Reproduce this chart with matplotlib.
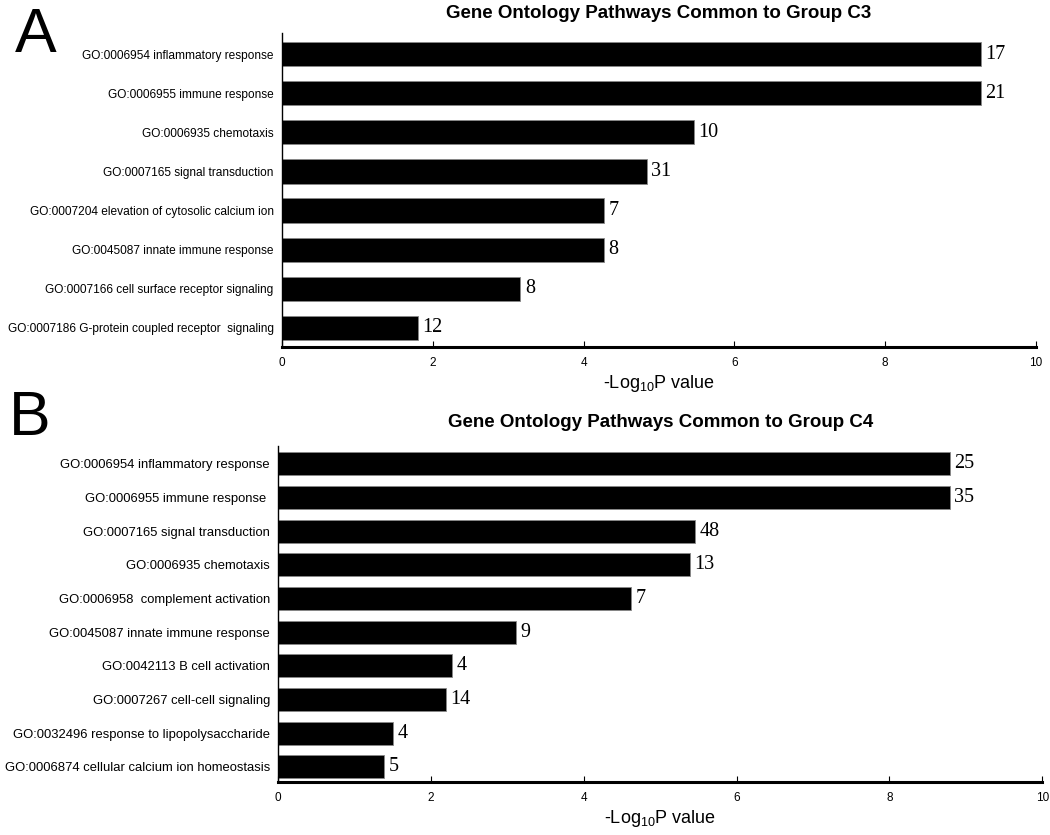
import matplotlib
matplotlib.use("Agg")
import matplotlib.pyplot as plt

plt.rcParams['font.family'] = ['Liberation Sans', 'DejaVu Sans']

# panel A data
terms_a = ["GO:0006954 inflammatory response", "GO:0006955 immune response",
           "GO:0006935 chemotaxis", "GO:0007165 signal transduction",
           "GO:0007204 elevation of cytosolic calcium ion", "GO:0045087 innate immune response",
           "GO:0007166 cell surface receptor signaling",
           "GO:0007186 G-protein coupled receptor  signaling"]
logp_a = [9.27, 9.27, 5.46, 4.84, 4.27, 4.27, 3.16, 1.80]
counts_a = [17, 21, 10, 31, 7, 8, 8, 12]

# panel B data
terms_b = ["GO:0006954 inflammatory response", "GO:0006955 immune response ",
           "GO:0007165 signal transduction", "GO:0006935 chemotaxis",
           "GO:0006958  complement activation", "GO:0045087 innate immune response",
           "GO:0042113 B cell activation", "GO:0007267 cell-cell signaling",
           "GO:0032496 response to lipopolysaccharide",
           "GO:0006874 cellular calcium ion homeostasis"]
logp_b = [8.79, 8.79, 5.46, 5.39, 4.62, 3.11, 2.27, 2.19, 1.50, 1.38]
counts_b = [25, 35, 48, 13, 7, 9, 4, 14, 4, 5]

fig = plt.figure(figsize=(10.5, 8.35), dpi=100)


def panel(rect, terms, vals, counts, title, barh_h, lab_fs, ylims, tpad):
    ax = fig.add_axes(rect)
    y = list(range(len(terms)))
    ax.barh(y, vals, height=barh_h, color='black', edgecolor='#888888', linewidth=0.6)
    for yi, v, c in zip(y, vals, counts):
        ax.text(v + 0.06, yi, str(c), va='center', ha='left',
                fontsize=14.5, family=['Liberation Serif', 'DejaVu Serif'])
    ax.set_yticks(y)
    ax.set_yticklabels(terms, fontsize=lab_fs)
    ax.set_ylim(*ylims)
    ax.set_xlim(0, 10)
    ax.set_xticks([0, 2, 4, 6, 8, 10])
    for lab in ax.get_xticklabels():
        lab.set_family(['Liberation Sans Narrow', 'Liberation Sans'])
        lab.set_fontsize(8.5)
    ax.tick_params(axis='y', length=0, pad=6)
    ax.tick_params(axis='x', direction='in', length=4, width=0.8, pad=7)
    ax.spines['top'].set_visible(False)
    ax.spines['right'].set_visible(False)
    ax.spines['bottom'].set_linewidth(2.2)
    ax.spines['left'].set_linewidth(1.0)
    ax.set_xlabel('-Log$_{\\mathregular{10}}$P value', fontsize=13, labelpad=3)
    ax.set_title(title, fontsize=13.5, fontweight='bold', pad=tpad)
    return ax


axa = panel([0.2686, 0.5844, 0.718, 0.376], terms_a, logp_a, counts_a,
            "Gene Ontology Pathways Common to Group C3", 0.62, 8.6, (7.49, -0.54), 11)
axb = panel([0.2650, 0.0635, 0.7276, 0.4024], terms_b, logp_b, counts_b,
            "Gene Ontology Pathways Common to Group C4", 0.68, 9.4, (9.45, -0.53), 14)

fig.text(0.014, 0.9377, "A", fontsize=45, va='baseline')
fig.text(0.008, 0.479, "B", fontsize=45, va='baseline')

fig.savefig("out.png", dpi=100)
